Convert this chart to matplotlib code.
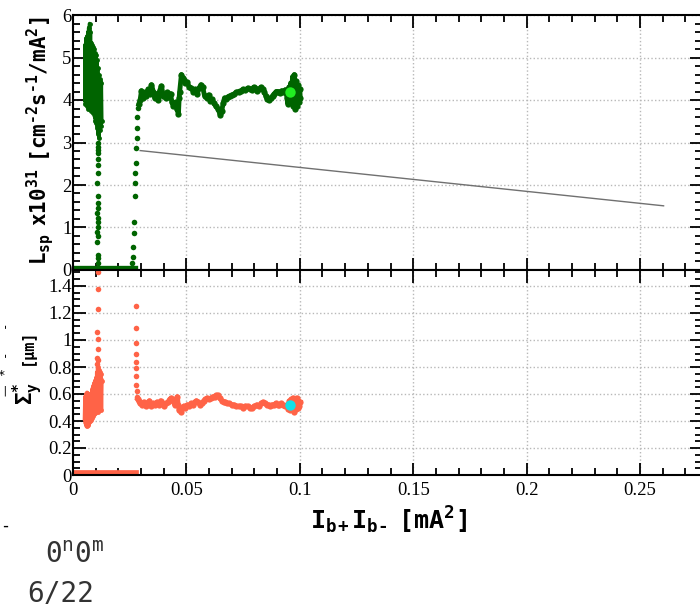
import matplotlib
matplotlib.use("Agg")
import matplotlib.pyplot as plt
from matplotlib.ticker import MultipleLocator, FormatStrFormatter

plt.rcParams['mathtext.fontset'] = 'custom'
plt.rcParams['mathtext.rm'] = 'DejaVu Sans Mono:bold'
plt.rcParams['mathtext.it'] = 'DejaVu Sans Mono:bold'
plt.rcParams['mathtext.bf'] = 'DejaVu Sans Mono:bold'
plt.rcParams['mathtext.tt'] = 'DejaVu Sans Mono'

# ---- luminosity (top panel) ----
lsp_band_x = [0.0, 0.004, 0.008, 0.012, 0.016, 0.020, 0.024, 0.0267]
lsp_band_y = [0.0, 0.0, 0.0, 0.0, 0.0, 0.0, 0.0, 0.0]

lsp_burst_x = [0.0052, 0.0053, 0.0055, 0.0057, 0.0059, 0.0061, 0.0063, 0.0065, 0.0067, 0.0069,
               0.0071, 0.0073, 0.0075, 0.0077, 0.0079, 0.0081, 0.0083, 0.0085, 0.0087, 0.0089,
               0.0091, 0.0093, 0.0095, 0.0097, 0.0099, 0.0101, 0.0103, 0.0105, 0.0107, 0.0109,
               0.0111, 0.0113, 0.0115, 0.0117, 0.0119, 0.0121, 0.0123, 0.0125, 0.0127]
lsp_burst_y = [4.0, 5.3, 3.9, 5.45, 3.95, 5.5, 3.85, 5.6, 3.8, 5.7,
               3.85, 5.8, 3.8, 5.6, 3.75, 5.35, 3.8, 5.3, 3.7, 5.25,
               3.75, 5.2, 3.6, 5.1, 3.5, 5.05, 3.45, 4.95, 3.35, 4.75,
               3.2, 4.6, 3.1, 4.5, 3.3, 4.45, 3.4, 4.4, 3.5]

lsp_drop_x = [0.0110, 0.0110, 0.0109, 0.0110, 0.0109, 0.0110, 0.0109, 0.0108, 0.0109, 0.0110, 0.0109,
              0.0108, 0.0109, 0.0110, 0.0109, 0.0108, 0.0109, 0.0108, 0.0109, 0.0110, 0.0109]
lsp_drop_y = [3.0, 2.9, 2.83, 2.75, 2.6, 2.48, 2.28, 2.05, 1.73, 1.57, 1.45,
              1.33, 1.22, 1.14, 1.02, 0.9, 0.79, 0.67, 0.35, 0.28, 0.16]

lsp_rise_x = [0.0259, 0.0263, 0.0266, 0.0269, 0.0270, 0.0272, 0.0274, 0.0275, 0.0277, 0.0279,
              0.0280, 0.0282, 0.0284, 0.0287]
lsp_rise_y = [0.16, 0.31, 0.55, 0.86, 1.14, 1.73, 2.04, 2.28, 2.52, 2.87,
              3.1, 3.33, 3.6, 3.82]

lsp_run_x = [0.0290, 0.0296, 0.0302, 0.0310, 0.0318, 0.0324, 0.0332, 0.0340, 0.0346, 0.0354,
             0.0360, 0.0368, 0.0376, 0.0382, 0.0390, 0.0398, 0.0408, 0.0416, 0.0424, 0.0430,
             0.0436, 0.0443, 0.0452, 0.0458, 0.0465, 0.0468, 0.0470, 0.0478, 0.0484, 0.0490,
             0.0496, 0.0504, 0.0512, 0.0522, 0.0530, 0.0540, 0.0548, 0.0556, 0.0564, 0.0572,
             0.0580, 0.0589, 0.0598, 0.0606, 0.0614, 0.0622, 0.0630, 0.0638, 0.0646, 0.0650,
             0.0656, 0.0662, 0.0668, 0.0676, 0.0684, 0.0692, 0.0700, 0.0710, 0.0720, 0.0730,
             0.0740, 0.0750, 0.0760, 0.0770, 0.0780, 0.0790, 0.0796, 0.0804, 0.0812, 0.0820,
             0.0828, 0.0836, 0.0844, 0.0850, 0.0856, 0.0864, 0.0872, 0.0880, 0.0888, 0.0896,
             0.0904, 0.0912, 0.0920, 0.0928, 0.0936, 0.0944, 0.0948, 0.0952, 0.0956, 0.0960,
             0.0964, 0.0968, 0.0972, 0.0976, 0.0980, 0.0984, 0.0988, 0.0992, 0.0996, 0.1000,
             0.1002]
lsp_run_y = [3.90, 4.00, 4.22, 4.05, 4.18, 4.10, 4.25, 4.15, 4.36, 4.20,
             4.05, 4.15, 4.00, 4.22, 4.33, 4.10, 4.05, 4.18, 4.08, 4.15,
             3.95, 3.85, 3.95, 3.78, 3.68, 4.05, 4.18, 4.60, 4.52, 4.48,
             4.40, 4.42, 4.30, 4.28, 4.20, 4.25, 4.15, 4.28, 4.36, 4.30,
             4.10, 4.05, 4.12, 3.98, 4.02, 3.92, 3.85, 3.80, 3.70, 3.64,
             3.75, 3.92, 4.05, 4.02, 4.08, 4.10, 4.12, 4.14, 4.18, 4.20,
             4.22, 4.25, 4.24, 4.28, 4.26, 4.24, 4.30, 4.28, 4.22, 4.25,
             4.30, 4.26, 4.18, 4.10, 4.02, 4.00, 4.05, 4.10, 4.15, 4.20,
             4.20, 4.16, 4.22, 4.18, 4.24, 4.05, 3.90, 4.30, 3.95, 4.40,
             4.10, 4.55, 3.85, 4.60, 3.80, 4.45, 3.85, 4.35, 3.95, 4.25,
             4.05]

lsp_now_x = [0.0958]
lsp_now_y = [4.18]

fit_x = [0.0296, 0.2604]
fit_y = [2.81, 1.51]

# ---- vertical beam size (bottom panel) ----
sig_band_x = [0.0, 0.004, 0.008, 0.012, 0.016, 0.020, 0.024, 0.0267]
sig_band_y = [0.0, 0.0, 0.0, 0.0, 0.0, 0.0, 0.0, 0.0]

sig_burst_x = [0.0052, 0.0054, 0.0056, 0.0058, 0.0060, 0.0062, 0.0064, 0.0066, 0.0068, 0.0070,
               0.0072, 0.0074, 0.0076, 0.0078, 0.0080, 0.0082, 0.0084, 0.0086, 0.0088, 0.0090,
               0.0092, 0.0094, 0.0096, 0.0098, 0.0100, 0.0102, 0.0104, 0.0106, 0.0108, 0.0110,
               0.0112, 0.0114, 0.0116, 0.0118, 0.0120, 0.0122, 0.0124, 0.0126]
sig_burst_y = [0.42, 0.58, 0.38, 0.60, 0.36, 0.61, 0.37, 0.60, 0.38, 0.59,
               0.39, 0.60, 0.40, 0.58, 0.41, 0.59, 0.42, 0.64, 0.44, 0.66,
               0.45, 0.68, 0.46, 0.70, 0.47, 0.72, 0.48, 0.76, 0.48, 0.80,
               0.47, 0.78, 0.48, 0.76, 0.49, 0.75, 0.48, 0.70]

sig_spike_x = [0.0108, 0.0109, 0.0108, 0.0109, 0.0109, 0.0108, 0.0109, 0.0109, 0.0109]
sig_spike_y = [0.82, 0.85, 0.87, 0.93, 1.01, 1.06, 1.23, 1.38, 1.50]

sig_rise_x = [0.0276, 0.0277, 0.0277, 0.0277, 0.0278, 0.0278, 0.0278, 0.0279, 0.0280, 0.0282]
sig_rise_y = [1.25, 1.09, 0.98, 0.90, 0.84, 0.79, 0.73, 0.67, 0.62, 0.58]

sig_run_x = [0.0285, 0.0290, 0.0296, 0.0303, 0.0312, 0.0320, 0.0328, 0.0337, 0.0346, 0.0354,
             0.0362, 0.0370, 0.0378, 0.0386, 0.0394, 0.0402, 0.0410, 0.0418, 0.0426, 0.0434,
             0.0442, 0.0448, 0.0454, 0.0460, 0.0464, 0.0468, 0.0474, 0.0480, 0.0488, 0.0496,
             0.0504, 0.0512, 0.0520, 0.0528, 0.0536, 0.0544, 0.0552, 0.0560, 0.0568, 0.0576,
             0.0584, 0.0592, 0.0600, 0.0608, 0.0616, 0.0624, 0.0632, 0.0640, 0.0648, 0.0656,
             0.0664, 0.0672, 0.0680, 0.0690, 0.0700, 0.0710, 0.0720, 0.0730, 0.0740, 0.0750,
             0.0760, 0.0770, 0.0780, 0.0790, 0.0800, 0.0810, 0.0820, 0.0830, 0.0838, 0.0846,
             0.0854, 0.0862, 0.0870, 0.0878, 0.0886, 0.0894, 0.0902, 0.0910, 0.0918, 0.0926,
             0.0934, 0.0942, 0.0950, 0.0954, 0.0958, 0.0962, 0.0966, 0.0970, 0.0974, 0.0978,
             0.0982, 0.0986, 0.0990, 0.0994, 0.0998, 0.1002]
sig_run_y = [0.56, 0.55, 0.53, 0.52, 0.54, 0.51, 0.53, 0.55, 0.51, 0.53,
             0.52, 0.54, 0.52, 0.55, 0.53, 0.51, 0.53, 0.54, 0.56, 0.57,
             0.55, 0.52, 0.56, 0.58, 0.52, 0.48, 0.47, 0.50, 0.51, 0.50,
             0.52, 0.51, 0.53, 0.52, 0.54, 0.55, 0.54, 0.52, 0.53, 0.55,
             0.56, 0.57, 0.56, 0.57, 0.58, 0.58, 0.59, 0.59, 0.57, 0.55,
             0.54, 0.54, 0.53, 0.53, 0.52, 0.52, 0.51, 0.51, 0.51, 0.50,
             0.51, 0.51, 0.50, 0.50, 0.51, 0.52, 0.51, 0.53, 0.54, 0.53,
             0.52, 0.52, 0.51, 0.52, 0.52, 0.53, 0.52, 0.52, 0.53, 0.52,
             0.51, 0.52, 0.49, 0.55, 0.48, 0.56, 0.50, 0.57, 0.47, 0.56,
             0.49, 0.57, 0.50, 0.55, 0.51, 0.54]

sig_now_x = [0.0958]
sig_now_y = [0.52]

GREEN = '#006400'
TOMATO = '#ff6347'
W, H = 700, 604

fig = plt.figure(figsize=(7.0, 6.04), dpi=100)
left = 73 / W
width = 628.5 / W
ax1 = fig.add_axes([left, (H - 270) / H, width, 255 / H])
ax2 = fig.add_axes([left, (H - 475) / H, width, 205 / H])
xmax = 628.5 / 2268

# top panel
ax1.plot(lsp_band_x, lsp_band_y, '-', color=GREEN, lw=6, zorder=3)
ax1.plot(lsp_burst_x, lsp_burst_y, '-o', color=GREEN, lw=2.5, ms=3.5, mew=0)
ax1.plot(lsp_drop_x, lsp_drop_y, 'o', color=GREEN, ms=4, mew=0)
ax1.plot(lsp_rise_x, lsp_rise_y, 'o', color=GREEN, ms=4, mew=0)
ax1.plot(lsp_run_x, lsp_run_y, '-o', color=GREEN, lw=3.5, ms=4.5, mew=0)
ax1.plot(fit_x, fit_y, '-', color='#707070', lw=1.0)
ax1.plot(lsp_now_x, lsp_now_y, 'o', color='#22ee22', ms=7.5, mew=0, zorder=5)
ax1.set_ylim(0, 6)

# bottom panel
ax2.plot(sig_band_x, sig_band_y, '-', color=TOMATO, lw=7, zorder=3)
ax2.plot(sig_burst_x, sig_burst_y, '-o', color=TOMATO, lw=3, ms=3.5, mew=0)
ax2.plot(sig_spike_x, sig_spike_y, 'o', color=TOMATO, ms=4, mew=0)
ax2.plot(sig_rise_x, sig_rise_y, 'o', color=TOMATO, ms=4, mew=0)
ax2.plot(sig_run_x, sig_run_y, '-o', color=TOMATO, lw=3.5, ms=4.5, mew=0)
ax2.plot(sig_now_x, sig_now_y, 'o', color='#11e0e8', ms=7.5, mew=0, zorder=5)
ax2.set_ylim(0, 205 / 135)

for ax in (ax1, ax2):
    ax.set_xlim(0, xmax)
    ax.xaxis.set_major_locator(MultipleLocator(0.05))
    ax.xaxis.set_minor_locator(MultipleLocator(0.01))
    ax.xaxis.set_major_formatter(FormatStrFormatter('%g'))
    ax.yaxis.set_major_formatter(FormatStrFormatter('%g'))
    ax.tick_params(which='both', direction='in', top=True, right=True, width=1.3, colors='black')
    ax.tick_params(which='major', length=9)
    ax.tick_params(which='minor', length=5)
    ax.tick_params(axis='y', pad=1)
    ax.grid(True, which='major', ls=':', color='#b8b8b8', lw=1.0)
    for s in ax.spines.values():
        s.set_linewidth(1.5)
        s.set_zorder(4)
    for lab in ax.get_xticklabels() + ax.get_yticklabels():
        lab.set_family('Liberation Serif')
        lab.set_fontsize(13.5)

ax1.yaxis.set_major_locator(MultipleLocator(1))
ax1.yaxis.set_minor_locator(MultipleLocator(0.2))
ax1.tick_params(axis='x', labelbottom=False)
ax2.yaxis.set_major_locator(MultipleLocator(0.2))
ax2.yaxis.set_minor_locator(MultipleLocator(0.05))
ax2.tick_params(axis='x', pad=5)

# axis titles
fig.text(40 / W, 1 - 141 / H,
         r'$\mathrm{L_{sp}\ \ x10^{31}\ \ [cm^{\text{-}2}s^{\text{-}1}/mA^{2}]}$',
         rotation=90, ha='center', va='center', fontsize=15)
fig.text(28 / W, 1 - 393 / H, r'$\mathrm{\Sigma_{y}^{*}}$',
         rotation=90, ha='center', va='center', fontsize=15)
fig.text(27 / W, 1 - 347 / H, '[μm]', family='DejaVu Sans Mono', weight='bold',
         rotation=90, ha='center', va='center', fontsize=11)
fig.text(388 / W, 1 - 520 / H, r'$\mathrm{I_{b+}I_{b\text{-}}\ \ [mA^{2}]}$',
         ha='center', va='center', fontsize=18)

# clipped fragments at the left edge and footer
for yy in (324, 353):
    fig.text(4 / W, 1 - yy / H, '-', rotation=90, ha='center', va='center', fontsize=9,
             family='DejaVu Sans Mono')
fig.text(4 / W, 1 - 391 / H, '|', ha='center', va='center', fontsize=8, family='DejaVu Sans Mono')
fig.text(0.5 / W, 1 - 375 / H, '*', ha='center', va='center', fontsize=9, family='DejaVu Sans Mono')
fig.text(0 / W, 1 - 526 / H, '-', ha='left', va='center', fontsize=12, family='DejaVu Sans Mono')
fig.text(45 / W, 41 / H, r'$\mathtt{0^{n}0^{m}}$', ha='left', va='baseline', fontsize=20,
         color='#333333')
fig.text(27 / W, 3 / H, '6/22', family='DejaVu Sans Mono', ha='left', va='baseline',
         fontsize=20, color='#333333')

fig.savefig('out.png', dpi=100)
